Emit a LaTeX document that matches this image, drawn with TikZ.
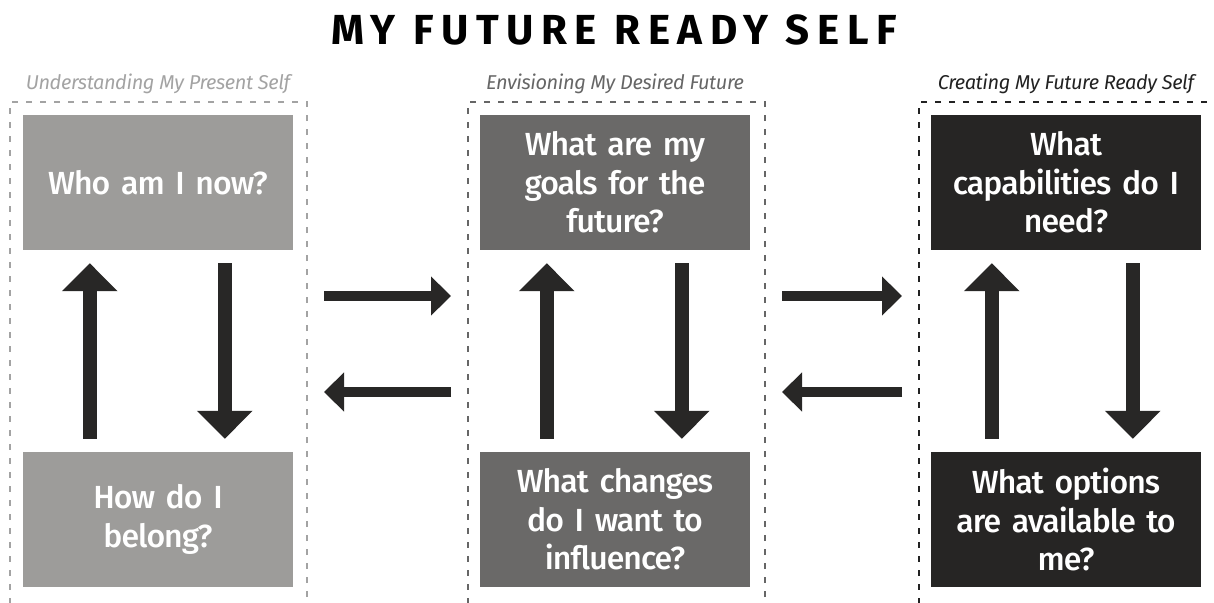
\documentclass[tikz,border=0pt]{standalone}
\usepackage{fontspec}
\setmainfont{Fira Sans}[LetterSpace=-2]
\newfontfamily\boxfont{Fira Sans Medium}[LetterSpace=-3]
\newfontfamily\titlefont{Fira Sans}[LetterSpace=18]
\usetikzlibrary{arrows.meta}

\definecolor{paleq}{HTML}{9D9C9A}
\definecolor{midq}{HTML}{6A6968}
\definecolor{darkq}{HTML}{262524}
\definecolor{arrowgray}{HTML}{282726}
\definecolor{paleline}{HTML}{A3A3A3}
\definecolor{midline}{HTML}{666666}
\definecolor{darkline}{HTML}{222222}

\tikzset{
  qbox/.style={rectangle, minimum width=270pt, minimum height=135pt, text width=250pt,
    align=center, text=white, inner sep=0pt, font=\boxfont\fontsize{32}{38.5}\selectfont},
  frame/.style={draw, dash pattern=on 6pt off 8pt, line width=2pt, minimum width=297pt,
    minimum height=520pt, anchor=north west, inner sep=0pt},
  caption/.style={anchor=base, font=\itshape\fontsize{20}{24}\selectfont},
  vflow/.style={draw=arrowgray, line width=14pt, -{Triangle[width=54pt,length=28pt]},
    shorten <=13pt, shorten >=13pt},
  hflow/.style={draw=arrowgray, line width=10pt, -{Triangle[width=38pt,length=20pt]},
    shorten <=16pt, shorten >=16pt}
}

\begin{document}
\begin{tikzpicture}[x=1pt,y=-1pt]
  \useasboundingbox (0,0) rectangle (1214,602);
  % title
  \node[anchor=base, font=\titlefont\bfseries\fontsize{42}{42}\selectfont] (title) at (614,45) {MY FUTURE READY SELF};
  % dashed frames
  \node[frame, draw=paleline] (f1) at (9,101) {};
  \node[frame, draw=midline] (f2) at (467,101) {};
  \node[frame, draw=darkline] (f3) at (918,101) {};
  % question boxes
  \node[qbox, fill=paleq] (who) at (158,182.5) {Who am I now?};
  \node[qbox, fill=paleq] (belong) at (158,519.5) {How do I\\belong?};
  \node[qbox, fill=midq] (goals) at (615,182.5) {What are my\\goals for the\\future?};
  \node[qbox, fill=midq] (changes) at (615,519.5) {What changes\\do I want to\\influence?};
  \node[qbox, fill=darkq] (capab) at (1066,182.5) {What\\capabilities do I\\need?};
  \node[qbox, fill=darkq] (options) at (1066,519.5) {What options\\are available to\\me?};
  % captions
  \node[caption, text=paleline] (cap1) at (who.center |- 0,89) {Understanding My Present Self};
  \node[caption, text=midline] (cap2) at (goals.center |- 0,89) {Envisioning My Desired Future};
  \node[caption, text=darkline] (cap3) at (capab.center |- 0,89) {Creating My Future Ready Self};
  % up and down arrows
  \draw[vflow] ([xshift=67pt]belong.north west) -- ([xshift=67pt]who.south west);
  \draw[vflow] ([xshift=202pt]who.south west) -- ([xshift=202pt]belong.north west);
  \draw[vflow] ([xshift=67pt]changes.north west) -- ([xshift=67pt]goals.south west);
  \draw[vflow] ([xshift=202pt]goals.south west) -- ([xshift=202pt]changes.north west);
  \draw[vflow] ([xshift=61pt]options.north west) -- ([xshift=61pt]capab.south west);
  \draw[vflow] ([xshift=202pt]capab.south west) -- ([xshift=202pt]options.north west);
  % arrows between frames
  \draw[hflow] (f1.east |- 0,296) -- (f2.west |- 0,296);
  \draw[hflow] (f2.west |- 0,392) -- (f1.east |- 0,392);
  \draw[hflow] (f2.east |- 0,296) -- (f3.west |- 0,296);
  \draw[hflow] (f3.west |- 0,392) -- (f2.east |- 0,392);
\end{tikzpicture}
\end{document}
